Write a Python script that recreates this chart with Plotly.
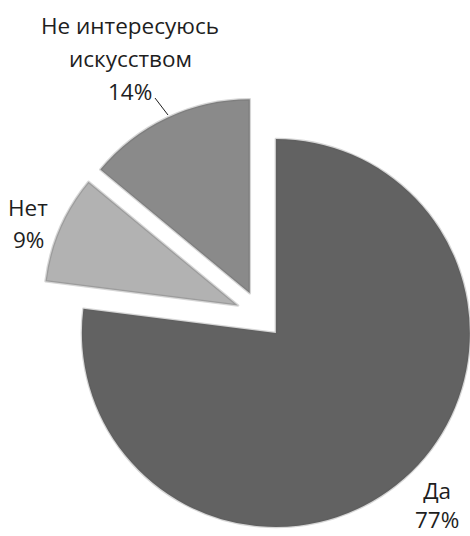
import math
import plotly.graph_objects as go

# ---- data ----
categories = ["Да", "Нет", "Не интересуюсь искусством"]
values = [77, 9, 14]
pct_labels = ["77%", "9%", "14%"]
colors = ["#626262", "#b2b2b2", "#8a8a8a"]

# ---- layout constants ----
W, H = 470, 536
R = 194          # pie radius in px
EXPLODE = 24     # explosion distance in px
CX, CY = 260, 315  # pie centre in px

total = sum(values)
fig = go.Figure()

start = 0.0
for i, v in enumerate(values):
    span = 360.0 * v / total
    mid = math.radians(start + span / 2.0)
    start += span
    cx = CX + EXPLODE * math.sin(mid)
    cy = CY - EXPLODE * math.cos(mid)
    x0 = max(0.0, (cx - R) / W)
    x1 = min(1.0, (cx + R) / W)
    y0 = max(0.0, 1 - (cy + R) / H)
    y1 = min(1.0, 1 - (cy - R) / H)
    cols = [colors[j] if j == i else "rgba(0,0,0,0)" for j in range(len(values))]
    lw = [2.5 if j == i else 0 for j in range(len(values))]
    lc = ["rgba(90,90,90,0.25)" if j == i else "rgba(0,0,0,0)" for j in range(len(values))]
    fig.add_trace(go.Pie(
        labels=categories,
        values=values,
        sort=False,
        direction="clockwise",
        rotation=0,
        textinfo="none",
        hoverinfo="skip",
        showlegend=False,
        marker=dict(colors=cols, line=dict(color=lc, width=lw)),
        domain=dict(x=[x0, x1], y=[y0, y1]),
    ))

font = dict(family="Open Sans, DejaVu Sans, sans-serif", size=22.5, color="#1e1e1e")

def px(x, y):
    return x / W, 1 - y / H

label_lines = [
    ("Не интересуюсь", 130, 26),
    ("искусством", 130, 59),
    (pct_labels[2], 130, 91),
    (categories[1], 28, 207),
    (pct_labels[1], 28, 240),
]
for txt, x, y in label_lines:
    ax, ay = px(x, y)
    fig.add_annotation(text=txt, x=ax, y=ay, xref="paper", yref="paper",
                       xanchor="center", yanchor="middle", showarrow=False, font=font)

# "Да / 77%" label as one two-line block sitting on the bottom edge
fig.add_annotation(text=categories[0] + "<br>" + pct_labels[0], x=437 / W, y=0,
                   xref="paper", yref="paper", xanchor="center", yanchor="bottom",
                   showarrow=False, font=font, borderpad=0)

lx0, ly0 = px(155, 98)
lx1, ly1 = px(168, 115)
fig.add_shape(type="line", xref="paper", yref="paper", x0=lx0, y0=ly0, x1=lx1, y1=ly1,
              line=dict(color="#1e1e1e", width=1))

fig.update_layout(
    width=W, height=H,
    margin=dict(l=0, r=0, t=0, b=0),
    paper_bgcolor="white",
    plot_bgcolor="white",
)

fig.write_html(
    "out.html",
    config={"displayModeBar": False},
    post_script="document.body.style.margin='0';document.body.style.overflow='hidden';",
)
